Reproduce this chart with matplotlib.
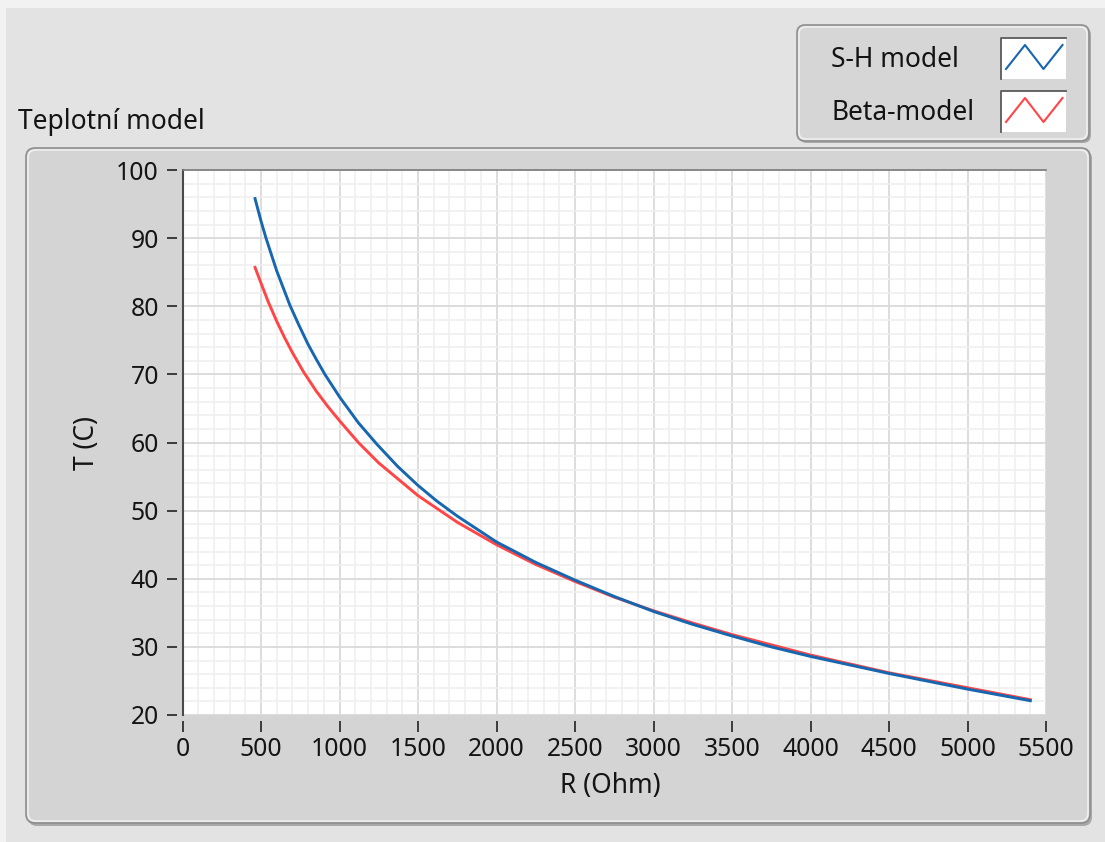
import matplotlib
matplotlib.use("Agg")
import matplotlib.pyplot as plt
from matplotlib.patches import FancyBboxPatch, Rectangle
from matplotlib.ticker import MultipleLocator

plt.rcParams['font.family'] = ['Noto Sans', 'DejaVu Sans']

# resistance (Ohm) and temperature (C)
r_sh = [462, 500, 532, 600, 685, 740, 800, 850, 907, 1000, 1120, 1240, 1370, 1500,
        1620, 1750, 2000, 2250, 2500, 2750, 3000, 3250, 3500, 3750, 4000, 4500, 5000, 5400]
t_sh = [95.8, 92.5, 90.0, 85.2, 80.1, 77.3, 74.4, 72.3, 70.0, 66.7, 62.9, 59.7, 56.5, 53.7,
        51.4, 49.2, 45.4, 42.4, 39.8, 37.4, 35.2, 33.3, 31.6, 30.0, 28.6, 26.1, 23.8, 22.1]

r_beta = [462, 500, 547, 600, 650, 700, 770, 850, 925, 1000, 1120, 1250, 1500, 1750, 2000,
          2250, 2500, 2750, 3000, 3250, 3500, 4000, 4500, 5000, 5400]
t_beta = [85.7, 83.4, 80.6, 77.8, 75.4, 73.2, 70.4, 67.6, 65.3, 63.2, 60.0, 57.0, 52.2, 48.3, 45.0,
          42.1, 39.6, 37.3, 35.3, 33.5, 31.8, 28.8, 26.2, 24.0, 22.25]

series_names = ["S-H model", "Beta-model"]
blue = "#1666b0"
red = "#ff4545"
txt = "#141414"
fs_text = 19
fs_tick = 17.8

fig = plt.figure(figsize=(11.05, 8.42), dpi=100)
fig.patch.set_facecolor("#e3e3e3")

# background layer in pixel coordinates
bg = fig.add_axes([0, 0, 1, 1], zorder=0)
bg.set_xlim(0, 1105)
bg.set_ylim(842, 0)
bg.axis("off")

bg.add_patch(Rectangle((0, 0), 1105, 8, fc="#f2f2f2", ec="none"))
bg.add_patch(Rectangle((0, 0), 6, 842, fc="#f2f2f2", ec="none"))

# graph panel
bg.add_patch(FancyBboxPatch((28, 150), 1064, 676, boxstyle="round,pad=0,rounding_size=9",
                            fc="#a8a8a8", ec="none"))
bg.add_patch(FancyBboxPatch((26, 148), 1064, 675, boxstyle="round,pad=0,rounding_size=9",
                            fc="#d4d4d4", ec="#8e8e8e", lw=1.2))
bg.add_patch(FancyBboxPatch((28, 150), 1060, 671, boxstyle="round,pad=0,rounding_size=8",
                            fc="none", ec="#f4f4f4", lw=1.0))

bg.text(18, 129, "Teplotní model", fontsize=fs_text, color=txt, va="baseline", ha="left")

# legend box
bg.add_patch(FancyBboxPatch((799, 27), 292, 116, boxstyle="round,pad=0,rounding_size=8",
                            fc="#a8a8a8", ec="none"))
bg.add_patch(FancyBboxPatch((797, 25), 292, 116, boxstyle="round,pad=0,rounding_size=8",
                            fc="#d6d6d6", ec="#8e8e8e", lw=1.2))
bg.add_patch(FancyBboxPatch((799, 27), 288, 112, boxstyle="round,pad=0,rounding_size=7",
                            fc="none", ec="#f4f4f4", lw=1.0))

for name, col, base, top in [(series_names[0], blue, 67, 38), (series_names[1], red, 120, 91)]:
    bg.text(831, base, name, fontsize=fs_text, color=txt, va="baseline", ha="left")
    bg.add_patch(Rectangle((1001, top), 65, 41, fc="white", ec="none"))
    bg.plot([1001, 1001, 1066], [top + 41, top, top], color="#5a5a5a", lw=1.3)
    bg.plot([1006, 1025, 1043.5, 1062.5], [top + 31, top + 7, top + 31, top + 7],
            color=col, lw=1.5)

# plot area
ax = fig.add_axes([182.5 / 1105, 1 - 715 / 842, 863.5 / 1105, 545 / 842], zorder=2)
ax.set_facecolor("white")
ax.plot(r_beta, t_beta, color=red, lw=2.1, label=series_names[1])
ax.plot(r_sh, t_sh, color=blue, lw=2.1, label=series_names[0])

ax.set_xlim(0, 5500)
ax.set_ylim(20, 100)
ax.xaxis.set_major_locator(MultipleLocator(500))
ax.xaxis.set_minor_locator(MultipleLocator(100))
ax.yaxis.set_major_locator(MultipleLocator(10))
ax.yaxis.set_minor_locator(MultipleLocator(2))
ax.grid(which="major", color="#dadada", lw=1.3)
ax.grid(which="minor", color="#efefef", lw=1.1)
ax.set_axisbelow(True)

ax.spines["right"].set_visible(False)
ax.spines["top"].set_color("#7a7a7a")
ax.spines["top"].set_linewidth(1.2)
ax.spines["left"].set_position(("outward", 4))
ax.spines["left"].set_color("none")
ax.spines["bottom"].set_position(("outward", 4))
ax.spines["bottom"].set_color("none")
ax.plot([0, 0], [0, 1], transform=ax.transAxes, color="#4a4a4a", lw=1.5, clip_on=False)

ax.tick_params(axis="both", which="minor", length=0)
ax.tick_params(axis="y", which="major", length=7.5, width=1.2, color="#222222",
               pad=5.5, labelsize=fs_tick, labelcolor=txt)
ax.tick_params(axis="x", which="major", length=8, width=1.2, color="#222222",
               pad=4, labelsize=fs_tick, labelcolor=txt)

ax.set_xlabel("R (Ohm)", fontsize=fs_text, color=txt)
ax.set_ylabel("T (C)", fontsize=fs_text, color=txt)
ax.xaxis.set_label_coords(0.496, -0.104)
ax.yaxis.set_label_coords(-0.094, 0.5)

fig.savefig("out.png", dpi=100, facecolor=fig.get_facecolor())
